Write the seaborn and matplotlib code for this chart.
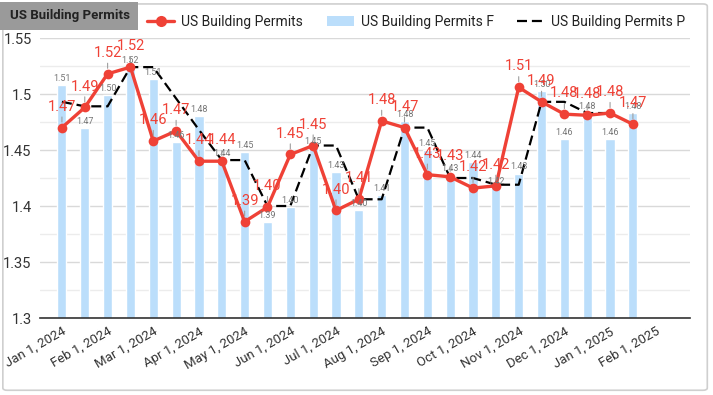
import numpy as np
import pandas as pd
import seaborn as sns
import matplotlib
matplotlib.use('Agg')
from matplotlib import pyplot as plt
from matplotlib.lines import Line2D
from matplotlib.patches import Patch, Rectangle, FancyBboxPatch

# half-monthly observations
dates = ['2024-01-01', '2024-01-16', '2024-02-01', '2024-02-16', '2024-03-01', '2024-03-16',
         '2024-04-01', '2024-04-16', '2024-05-01', '2024-05-16', '2024-06-01', '2024-06-16',
         '2024-07-01', '2024-07-16', '2024-08-01', '2024-08-16', '2024-09-01', '2024-09-16',
         '2024-10-01', '2024-10-16', '2024-11-01', '2024-11-16', '2024-12-01', '2024-12-16',
         '2025-01-01', '2025-01-16']
permits = [1.470, 1.488, 1.518, 1.524, 1.458, 1.467, 1.440, 1.440, 1.386, 1.399, 1.446, 1.454, 1.396,
           1.406, 1.476, 1.470, 1.428, 1.426, 1.416, 1.418, 1.506, 1.493, 1.482, 1.481, 1.483, 1.473]
permits_f = [1.508, 1.470, 1.499, 1.524, 1.513, 1.457, 1.480, 1.441, 1.448, 1.386, 1.399, 1.452, 1.430,
             1.396, 1.410, 1.476, 1.450, 1.428, 1.439, 1.416, 1.429, 1.503, 1.460, 1.483, 1.460, 1.483]
permits_p = [1.493, 1.489, 1.489, 1.524, 1.524, 1.496, 1.468, 1.441, 1.441, 1.400, 1.400, 1.454, 1.454,
             1.406, 1.406, 1.470, 1.470, 1.425, 1.425, 1.419, 1.419, 1.493, 1.493, 1.483, 1.483, np.nan]
tick_labels = ['Jan 1, 2024', 'Feb 1, 2024', 'Mar 1, 2024', 'Apr 1, 2024', 'May 1, 2024', 'Jun 1, 2024',
               'Jul 1, 2024', 'Aug 1, 2024', 'Sep 1, 2024', 'Oct 1, 2024', 'Nov 1, 2024', 'Dec 1, 2024',
               'Jan 1, 2025', 'Feb 1, 2025']

df = pd.DataFrame({'date': pd.to_datetime(dates), 'permits': permits,
                   'permits_f': permits_f, 'permits_p': permits_p})
df['pos'] = np.arange(len(df))

sns.set_style('white')
plt.rcParams['font.family'] = ['Roboto', 'DejaVu Sans']

red = '#ef4136'
blue = '#bbdefb'

fig = plt.figure(figsize=(7.13, 3.95), dpi=100)
ax = fig.add_axes([40/713, 77/395, 650/713, 280/395])

sns.barplot(data=df, x='pos', y='permits_f', native_scale=True, width=0.4,
            color=blue, saturation=1, ax=ax, zorder=2)
sns.lineplot(data=df, x='pos', y='permits_p', color='black', lw=1.6,
             linestyle=(0, (4.5, 2.2)), ax=ax, zorder=3)
sns.lineplot(data=df, x='pos', y='permits', color=red, lw=2.4, marker='o',
             markersize=7, markeredgewidth=0, ax=ax, zorder=4)

for x, v in zip(df['pos'], df['permits_f']):
    ax.annotate(f'{v:.2f}', (x, v), xytext=(0, 1.5), textcoords='offset points',
                ha='center', va='bottom', fontsize=6.5, color='#757575', zorder=5)
for x, v in zip(df['pos'], df['permits']):
    ax.annotate(f'{v:.2f}', (x, v), xytext=(0, 10), textcoords='offset points',
                ha='center', va='bottom', fontsize=10.5, color=red, zorder=6,
                arrowprops=dict(arrowstyle='-', color='#9e9e9e', lw=0.8, shrinkA=0, shrinkB=4))

ax.set_xlim(-0.96, 27.5)
ax.set_ylim(1.3, 1.55)
ax.set_xticks(np.arange(0, 27, 2))
ax.set_xticklabels(tick_labels, rotation=30, ha='right', rotation_mode='anchor',
                   fontsize=9.5, color='#333333')
ax.set_yticks([1.3, 1.35, 1.4, 1.45, 1.5, 1.55])
ax.set_yticklabels(['1.3', '1.35', '1.4', '1.45', '1.5', '1.55'], fontsize=10.5, color='#333333')
ax.set_yticks(np.arange(1.325, 1.55, 0.05), minor=True)
ax.tick_params(axis='both', length=0, pad=6)
ax.tick_params(axis='x', pad=5)
ax.grid(axis='y', which='major', color='#d9d9d9', lw=1, zorder=0)
ax.grid(axis='y', which='minor', color='#ececec', lw=1, zorder=0)
ax.set_axisbelow(True)
ax.set_xlabel('')
ax.set_ylabel('')
for s in ['top', 'right', 'left']:
    ax.spines[s].set_visible(False)
ax.spines['bottom'].set_color('#333333')
ax.spines['bottom'].set_linewidth(1.2)
ax.spines['bottom'].set_zorder(7)

handles = [Line2D([], [], color=red, lw=2.4, marker='o', markersize=8, markeredgewidth=0),
           Patch(facecolor=blue, edgecolor='none'),
           Line2D([], [], color='black', lw=1.6, linestyle=(0, (4.5, 2.2)))]
fig.legend(handles, ['US Building Permits', 'US Building Permits F', 'US Building Permits P'],
           loc='center', bbox_to_anchor=(0.584, 0.944), ncol=3, frameon=False,
           fontsize=10, handlelength=1.95, columnspacing=1.7, handletextpad=0.5,
           labelcolor='#222222')

# chart frame and title tab
fig.patches.append(FancyBboxPatch((0.004, 0.012), 0.988, 0.978, boxstyle='round,pad=0,rounding_size=0.006',
                                  transform=fig.transFigure, facecolor='none',
                                  edgecolor='#cfcfcf', lw=1.2, zorder=0))
fig.patches.append(Rectangle((0, 1 - 30/395), 138/713, 28/395, transform=fig.transFigure,
                             facecolor='#9a9a9a', edgecolor='none', zorder=1))
fig.text(10/713, 1 - 16/395, 'US Building Permits', fontsize=9.5, fontweight='bold',
         color='#222222', va='center', ha='left')

plt.savefig('out.png', dpi=100)
